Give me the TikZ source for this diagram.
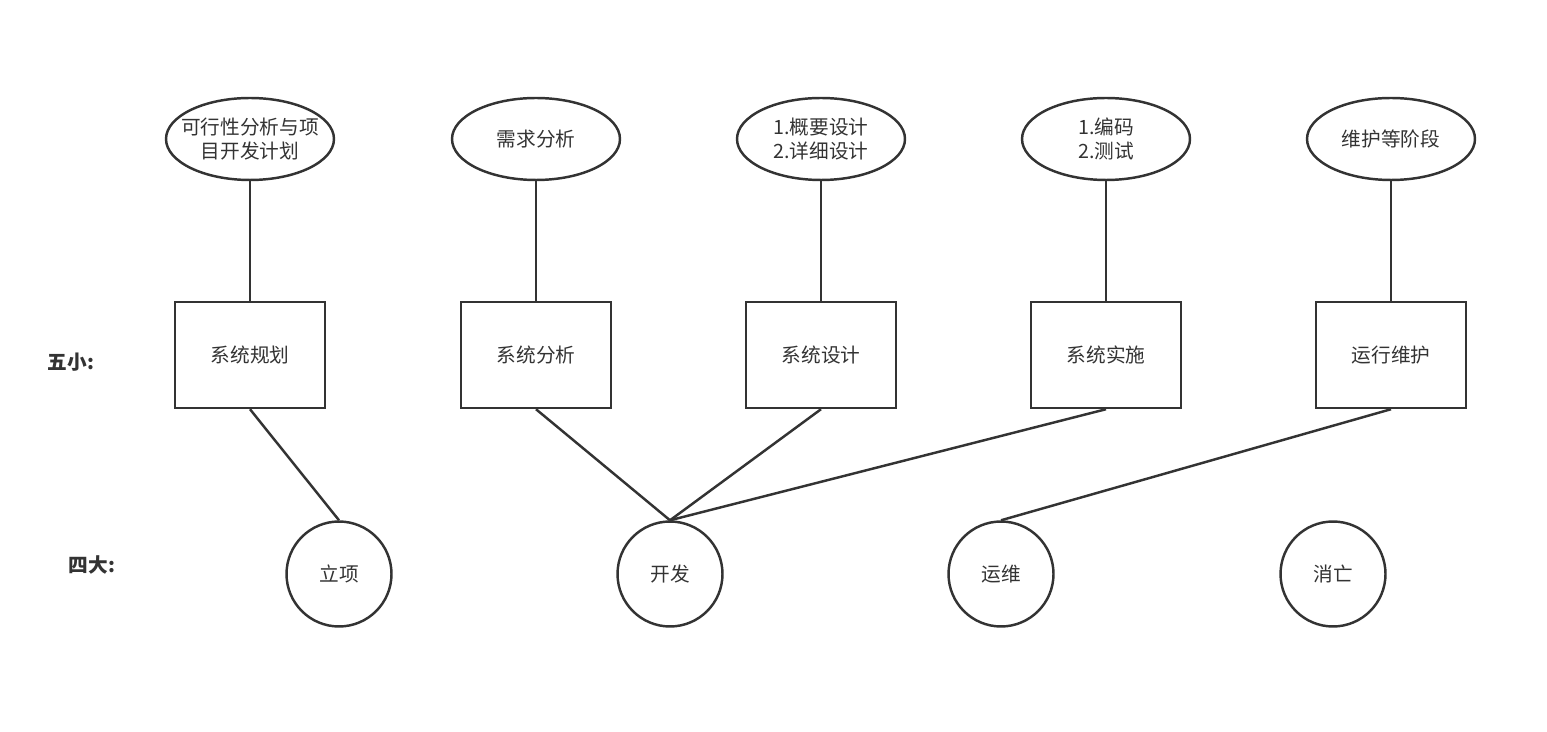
\documentclass[tikz,border=0pt]{standalone}
\usepackage{fontspec}
\setmainfont{Noto Sans CJK SC}
\usetikzlibrary{shapes.geometric}
\definecolor{ink}{HTML}{333333}
\newcommand{\slim}[1]{\makebox[0pt]{#1}}
\tikzset{
  line/.style={draw=ink, line width=1.4pt},
  task/.style={line, ellipse, minimum width=3.36cm, minimum height=1.64cm, inner sep=0pt, align=center, text=ink},
  phase/.style={line, rectangle, minimum width=3cm, minimum height=2.12cm, text=ink},
  stage/.style={line, circle, minimum size=2.1cm, inner sep=0pt, text=ink},
  tag/.style={text=ink, font=\fontsize{11.2}{13}\selectfont\bfseries}
}
\begin{document}
\begin{tikzpicture}[x=0.02cm, y=-0.02cm, font=\fontsize{11.2}{13.2}\selectfont]
    \useasboundingbox (0,0) rectangle (1547,732);
    \node[tag] (wu) at (71,362) {五小:};
    \node[tag] (si) at (92,565) {四大:};
    \foreach \x/\t/\p [count=\i] in {
        250/{\slim{可行性分析与项}\\\slim{目开发计划}}/系统规划,
        536/需求分析/系统分析,
        821/{1.概要设计\\2.详细设计}/系统设计,
        1106/{1.编码\\2.测试}/系统实施,
        1391/维护等阶段/运行维护}{
      \node[task] (e\i) at (\x, 139) {\t};
      \node[phase] (r\i) at (\x, 355) {\p};
      \draw[line] (e\i) -- (r\i);
    }
    \foreach \x/\t [count=\i] in {339/立项, 670/开发, 1001/运维, 1333/消亡}{
      \node[stage] (c\i) at (\x, 574) {\t};
    }
    \foreach \a/\b in {1/1, 2/2, 3/2, 4/2, 5/3}{
      \draw[line] (r\a.south) -- (c\b.north);
    }
\end{tikzpicture}
\end{document}
